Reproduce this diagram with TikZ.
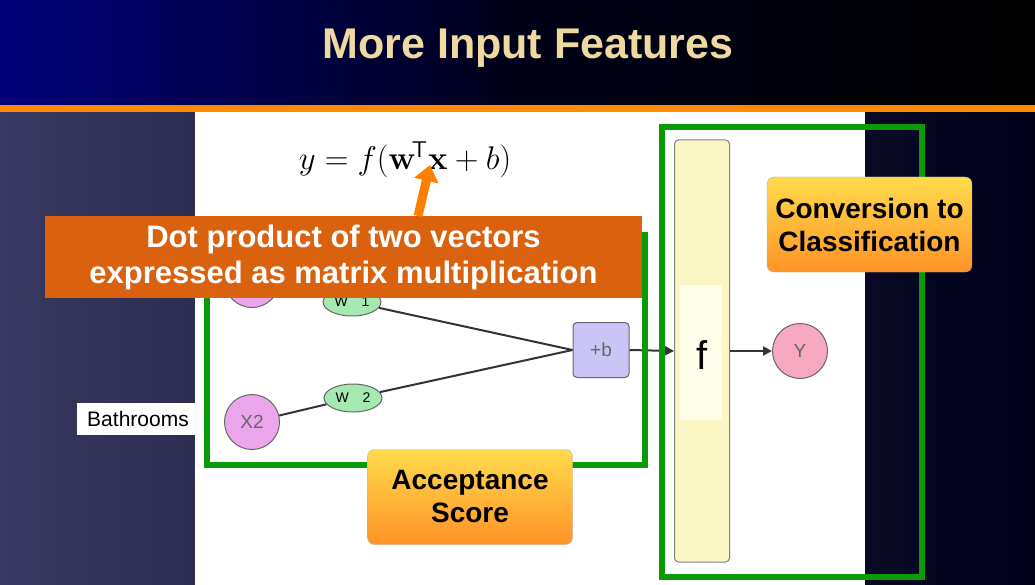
\documentclass[tikz,border=0pt]{standalone}
\usepackage[no-math]{fontspec}
\usepackage{graphicx}
\setmainfont{Liberation Sans}
\usetikzlibrary{arrows.meta,shapes.geometric}
\definecolor{navy}{HTML}{00007A}
\definecolor{gr}{HTML}{0A9A0A}
\definecolor{callout}{HTML}{DA620F}
\definecolor{pinkn}{HTML}{EBA6EB}
\definecolor{greenn}{HTML}{A5E8B0}
\definecolor{purpn}{HTML}{CBC5F7}
\definecolor{ybar}{HTML}{FAF7C5}
\definecolor{ypink}{HTML}{F5A8C0}
\definecolor{titlec}{HTML}{EED9A0}
\begin{document}
\begin{tikzpicture}[x=1pt,y=-1pt,
  circ/.style={circle,draw=black!60,line width=1pt,minimum size=55pt,inner sep=0pt,font=\fontsize{19}{19}\selectfont\color{black!60}},
  wel/.style={ellipse,draw=black!60,line width=1pt,fill=greenn,minimum width=58pt,minimum height=28pt,inner sep=0pt,font=\fontsize{14}{14}\selectfont},
  conn/.style={line width=2pt,black!80},
  gbox/.style={draw=gr,line width=6pt},
  note/.style={rounded corners=7pt,draw=black!30,top color=yellow!60!orange!70,bottom color=orange!85,align=center,font=\bfseries\fontsize{28}{33}\selectfont,minimum width=205pt,minimum height=95pt}]
\useasboundingbox (0,0) rectangle (1035,585);
% backgrounds
\shade[left color=navy,right color=black,middle color=black!80!navy] (0,0) rectangle (1035,105);
\shade[left color=navy!60!white!55!black,right color=black!90!blue] (0,112) rectangle (1035,585);
\fill[orange!80!yellow!90!red] (0,105) rectangle (1035,112);
\fill[white] (195,112) rectangle (865,585);
\node[text=titlec,font=\bfseries\fontsize{43}{43}\selectfont] (title) at (528,48) {More Input Features};
% equation
\node (eq) at (405,160) {\scalebox{1.9}{\LARGE $y = f(\mathbf{w}^{\!\mathsf{T}}\mathbf{x} + b)$}};
% network
\node[circ,fill=pinkn] (x1) at (252,280) {};
\node[circ,fill=pinkn] (x2) at (252,422) {X2};
\node[wel] (w1) at (352,302) {W\quad 1};
\node[wel] (w2) at (353,398) {W\quad 2};
\node[draw=black!60,line width=1pt,fill=purpn,rounded corners=4pt,minimum width=56pt,minimum height=55pt,font=\fontsize{19}{19}\selectfont\color{black!60}] (pb) at (601,350) {+b};
\draw[conn] (x1) -- (w1) -- (pb.west);
\draw[conn] (x2) -- (w2) -- (pb.west);
% f bar
\node[draw=black!50,line width=1pt,fill=ybar,rounded corners=4pt,minimum width=55pt,minimum height=422pt] (fb) at (702,351) {};
\fill[yellow!8] (680,285) rectangle (722,420);
\node[font=\fontsize{40}{40}\selectfont] (f) at (702,355) {f};
\node[circ,fill=ypink] (y) at (800,351) {Y};
\draw[conn,-{Triangle[length=9pt,width=9pt]}] (pb.east) -- (fb.west);
\draw[conn,-{Triangle[length=9pt,width=9pt]}] (fb.east) -- (y.west);
% green boxes
\draw[gbox] (207,235) rectangle (645,465);
\draw[gbox] (662,127) rectangle (922,577);
% bathrooms
\node[fill=white,font=\fontsize{21}{21}\selectfont,minimum width=123pt,minimum height=32pt,inner sep=0pt] (bath) at (138,419) {Bathrooms};
% callout
\coordinate (tip) at (430,165);
\node[fill=callout,text=white,font=\bfseries\fontsize{31}{36}\selectfont,align=center,minimum width=597pt,minimum height=82pt] (co) at (343.5,257) {Dot product of two vectors\\expressed as matrix multiplication};
\draw[orange,line width=9pt,-{Triangle[length=16pt,width=24pt]}] (418,216) -- (tip);
% boxes
\node[note] (conv) at (869.5,224.5) {Conversion to\\Classification};
\node[note] (acc) at (470,497) {Acceptance\\Score};
\end{tikzpicture}
\end{document}
